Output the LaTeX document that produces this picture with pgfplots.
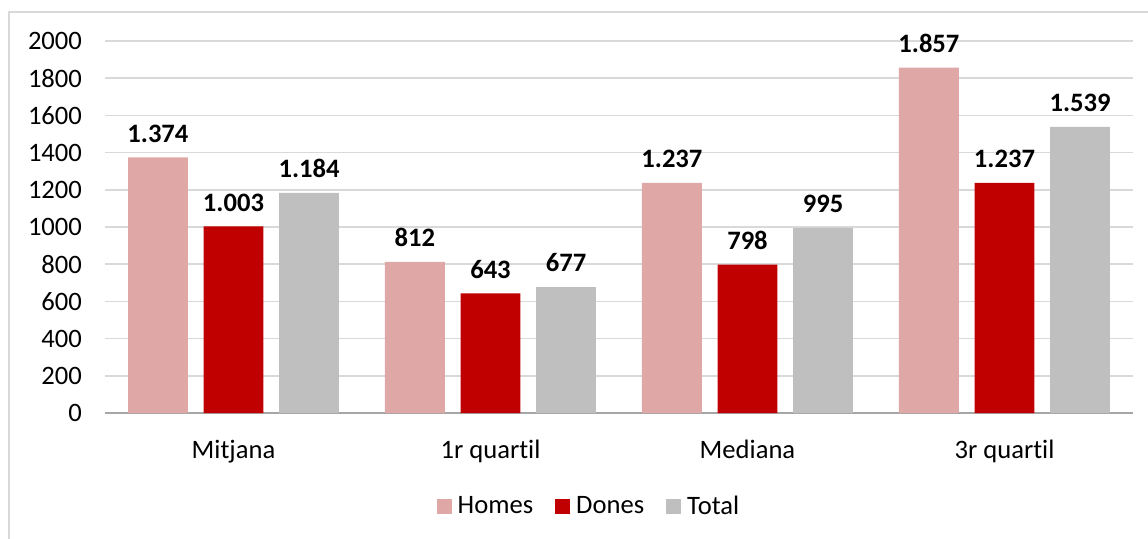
\documentclass[border=0pt]{standalone}
\usepackage{fontspec}
\setmainfont{Carlito}[Ligatures={NoCommon}]
\usepackage{pgfplots}
\pgfplotsset{compat=1.18}
\definecolor{homes}{HTML}{DFA7A6}
\definecolor{dones}{HTML}{C00000}
\definecolor{total}{HTML}{BFBFBF}
\definecolor{gridgray}{HTML}{D9D9D9}
\definecolor{axisgray}{HTML}{A6A6A6}
\definecolor{framegray}{HTML}{D9D9D9}
\newcommand{\chartfont}{\fontsize{13.3}{15}\selectfont}
\begin{document}
\begin{tikzpicture}[x=1pt,y=1pt]
\clip (0,0) rectangle (574,269);
\draw[color=framegray, line width=1pt] (4.5,263) rectangle (620,-20);
\begin{axis}[
  at={(52.5pt,62.5pt)}, anchor=south west,
  scale only axis, width=514pt, height=186pt,
  xmin=-0.5, xmax=3.5, ymin=0, ymax=2000,
  ybar,
  axis x line=bottom, axis y line=left,
  y axis line style={draw=none},
  x axis line style={color=axisgray, line width=0.75pt, -},
  ytick={0,200,...,2000},
  ymajorgrids, grid style={color=gridgray, line width=0.75pt},
  major tick length=0,
  xtick={0,1,2,3},
  xticklabels={Mitjana,1r quartil,Mediana,3r quartil},
  tick label style={font=\chartfont, color=black},
  yticklabel style={xshift=-8pt},
  xticklabel style={yshift=-10pt},
  /pgf/number format/assume math mode=true,
  /pgf/number format/1000 sep={},
  nodes near coords={\pgfmathprintnumber[1000 sep={.}]{\pgfplotspointmeta}},
  every node near coord/.append style={font=\chartfont\bfseries, yshift=4pt, color=black},
  legend columns=-1,
  legend style={at={(axis description cs:0.4718,-0.252)}, anchor=center, draw=none, fill=none,
    font=\chartfont, /tikz/every even column/.append style={column sep=9pt}},
  legend image code/.code={\fill[#1] (0pt,-3.75pt) rectangle (7.5pt,3.75pt); \path (8.5pt,0pt);},
]
\addplot[fill=homes, draw=none, bar width=0.233, bar shift=-0.294] coordinates {(0,1374) (1,812) (2,1237) (3,1857)};
\addplot[fill=dones, draw=none, bar width=0.233, bar shift=0] coordinates {(0,1003) (1,643) (2,798) (3,1237)};
\addplot[fill=total, draw=none, bar width=0.233, bar shift=0.294] coordinates {(0,1184) (1,677) (2,995) (3,1539)};
\legend{Homes,Dones,Total}
\end{axis}
\end{tikzpicture}
\end{document}
